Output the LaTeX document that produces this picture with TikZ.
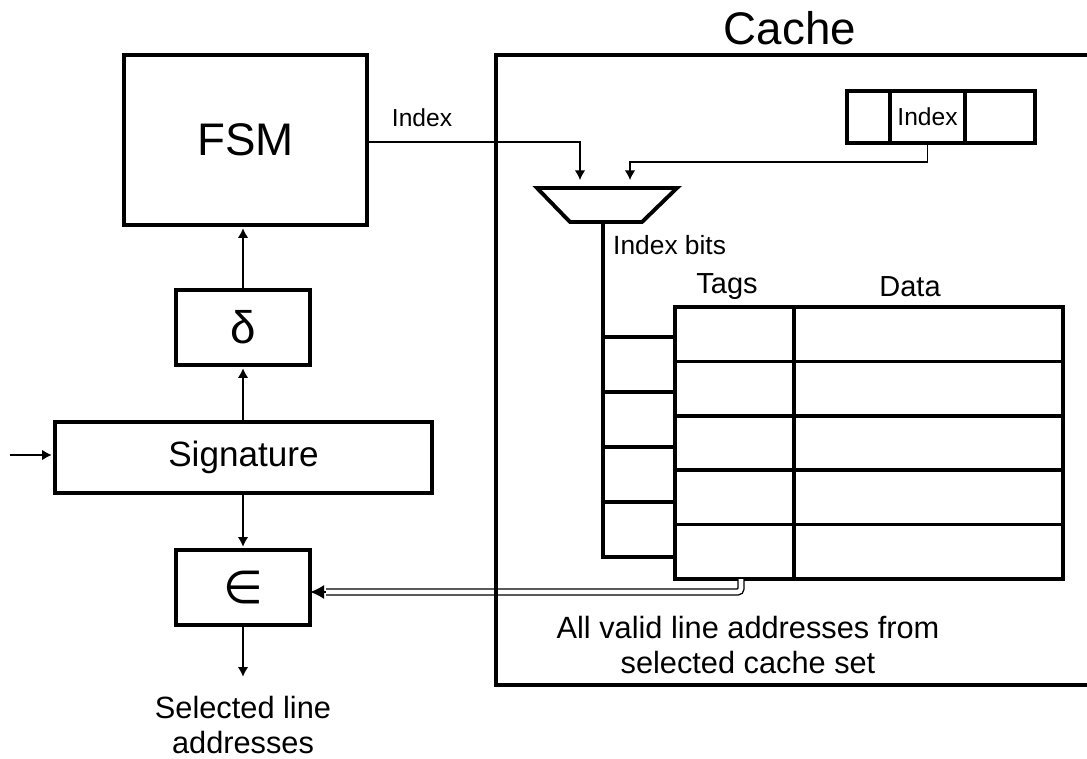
\documentclass[tikz,border=0pt]{standalone}
\usepackage{fontspec}
\setmainfont{Liberation Sans}
\newfontfamily\symfont{DejaVu Sans}
\usetikzlibrary{positioning,arrows.meta}

\begin{document}
\begin{tikzpicture}[
        x=0.02cm, y=-0.02cm,
        >={Latex[length=5.5pt,width=6pt]},
        block/.style = {draw, line width=2.1pt, inner sep=0pt, outer sep=0pt, align=center},
        flow/.style = {->, line width=1.3pt, shorten >=1.8pt},
        wire/.style = {->, line width=0.9pt, shorten >=4.5pt},
        huge text/.style = {font=\fontsize{26}{30}\selectfont},
        mid text/.style = {font=\fontsize{17.5}{20}\selectfont, align=center},
        small text/.style = {font=\fontsize{14}{16}\selectfont},
        tagcell/.style = {block, minimum width=2.38cm, minimum height=1.088cm},
        datacell/.style = {block, minimum width=5.38cm, minimum height=1.088cm},
        waycell/.style = {block, minimum width=1.44cm, minimum height=1.1cm},
        regcell/.style = {block, minimum height=1.04cm, small text}]
    \useasboundingbox (0,0) rectangle (1087,759);

    % left column
    \node[block, huge text, minimum width=4.86cm, minimum height=3.4cm] (fsm) at (245.5,140) {FSM};
    \node[block, huge text, minimum width=2.68cm, minimum height=1.5cm] (delta) at (243,327.5) {δ};
    \node[block, font=\fontsize{20}{24}\selectfont, minimum width=7.54cm, minimum height=1.42cm] (sig) at (243.5,457.5) {Signature};
    \node[block, huge text, minimum width=2.68cm, minimum height=1.5cm] (member) at (243,587.5) {\symfont ∈};
    \node[mid text] (selected) at (243,725) {Selected line\\addresses};
    \coordinate (sigin) at (10,455);
    \coordinate (selout) at (243,680);

    \draw[flow] (sigin) -- (sigin -| sig.west);
    \draw[flow] (sig.north -| delta.south) -- (delta.south);
    \draw[flow] (delta.north) -- (delta.north |- fsm.south);
    \draw[flow] (sig.south -| member.north) -- (member.north);
    \draw[flow] (member.south) -- (selout);

    % cache
    \node[huge text] (cache) at (790,28) {Cache};

    \node[regcell, minimum width=0.86cm] (reg1) at (868.5,117) {};
    \node[regcell, minimum width=1.5cm] (reg2) at (927.5,117) {Index};
    \node[regcell, minimum width=1.4cm] (reg3) at (1000,117) {};

    \draw[line width=2.2pt] (537,188) -- (677,188) -- (642,222) -- (570,222) -- cycle;
    \coordinate (muxa) at (580,188);
    \coordinate (muxb) at (630,188);
    \coordinate (muxout) at (603,222);
    \coordinate (regbend) at (927.5,162);

    \draw[wire] (fsm.east |- 0,142) -| (muxa);
    \node[small text] (fsmidx) at (422,118) {Index};
    \draw[wire] (reg2.south) -- (regbend) -| (muxb);
    \node[small text, font=\fontsize{15}{18}\selectfont, anchor=west] (idxbits) at (607,245) {Index bits};

    \foreach \i in {1,...,5} {
        \node[tagcell] (tag\i) at (734.5, 279.8+54.4*\i) {};
        \node[datacell] (data\i) at (928.5, 279.8+54.4*\i) {};
    }
    \foreach \i in {1,...,4}
        \node[waycell] (way\i) at (639, 309.5+55*\i) {};
    \draw[line width=2.1pt] (muxout) -- (way1.north west);

    \node[font=\fontsize{16.5}{20}\selectfont] (tagshead) at (727,287) {Tags};
    \node[font=\fontsize{16.5}{20}\selectfont] (datahead) at (910,287) {Data};

    \coordinate (setout) at (741,579);
    \coordinate (setbend) at (741,592);
    \coordinate (settip) at (326,592);
    \draw[double, line width=0.8pt, double distance=2.6pt, rounded corners=2pt]
        (setout) -- (setbend) -- (settip);
    \draw[->, line width=1pt, >={Latex[length=8pt,width=8pt]}]
        (settip) -- (member.east |- setbend);
    \node[mid text] (setlabel) at (748,645) {All valid line addresses from\\selected cache set};

    \draw[line width=2.1pt] (1092,55) -- (496,55) -- (496,685) -- (1092,685);
\end{tikzpicture}
\end{document}
